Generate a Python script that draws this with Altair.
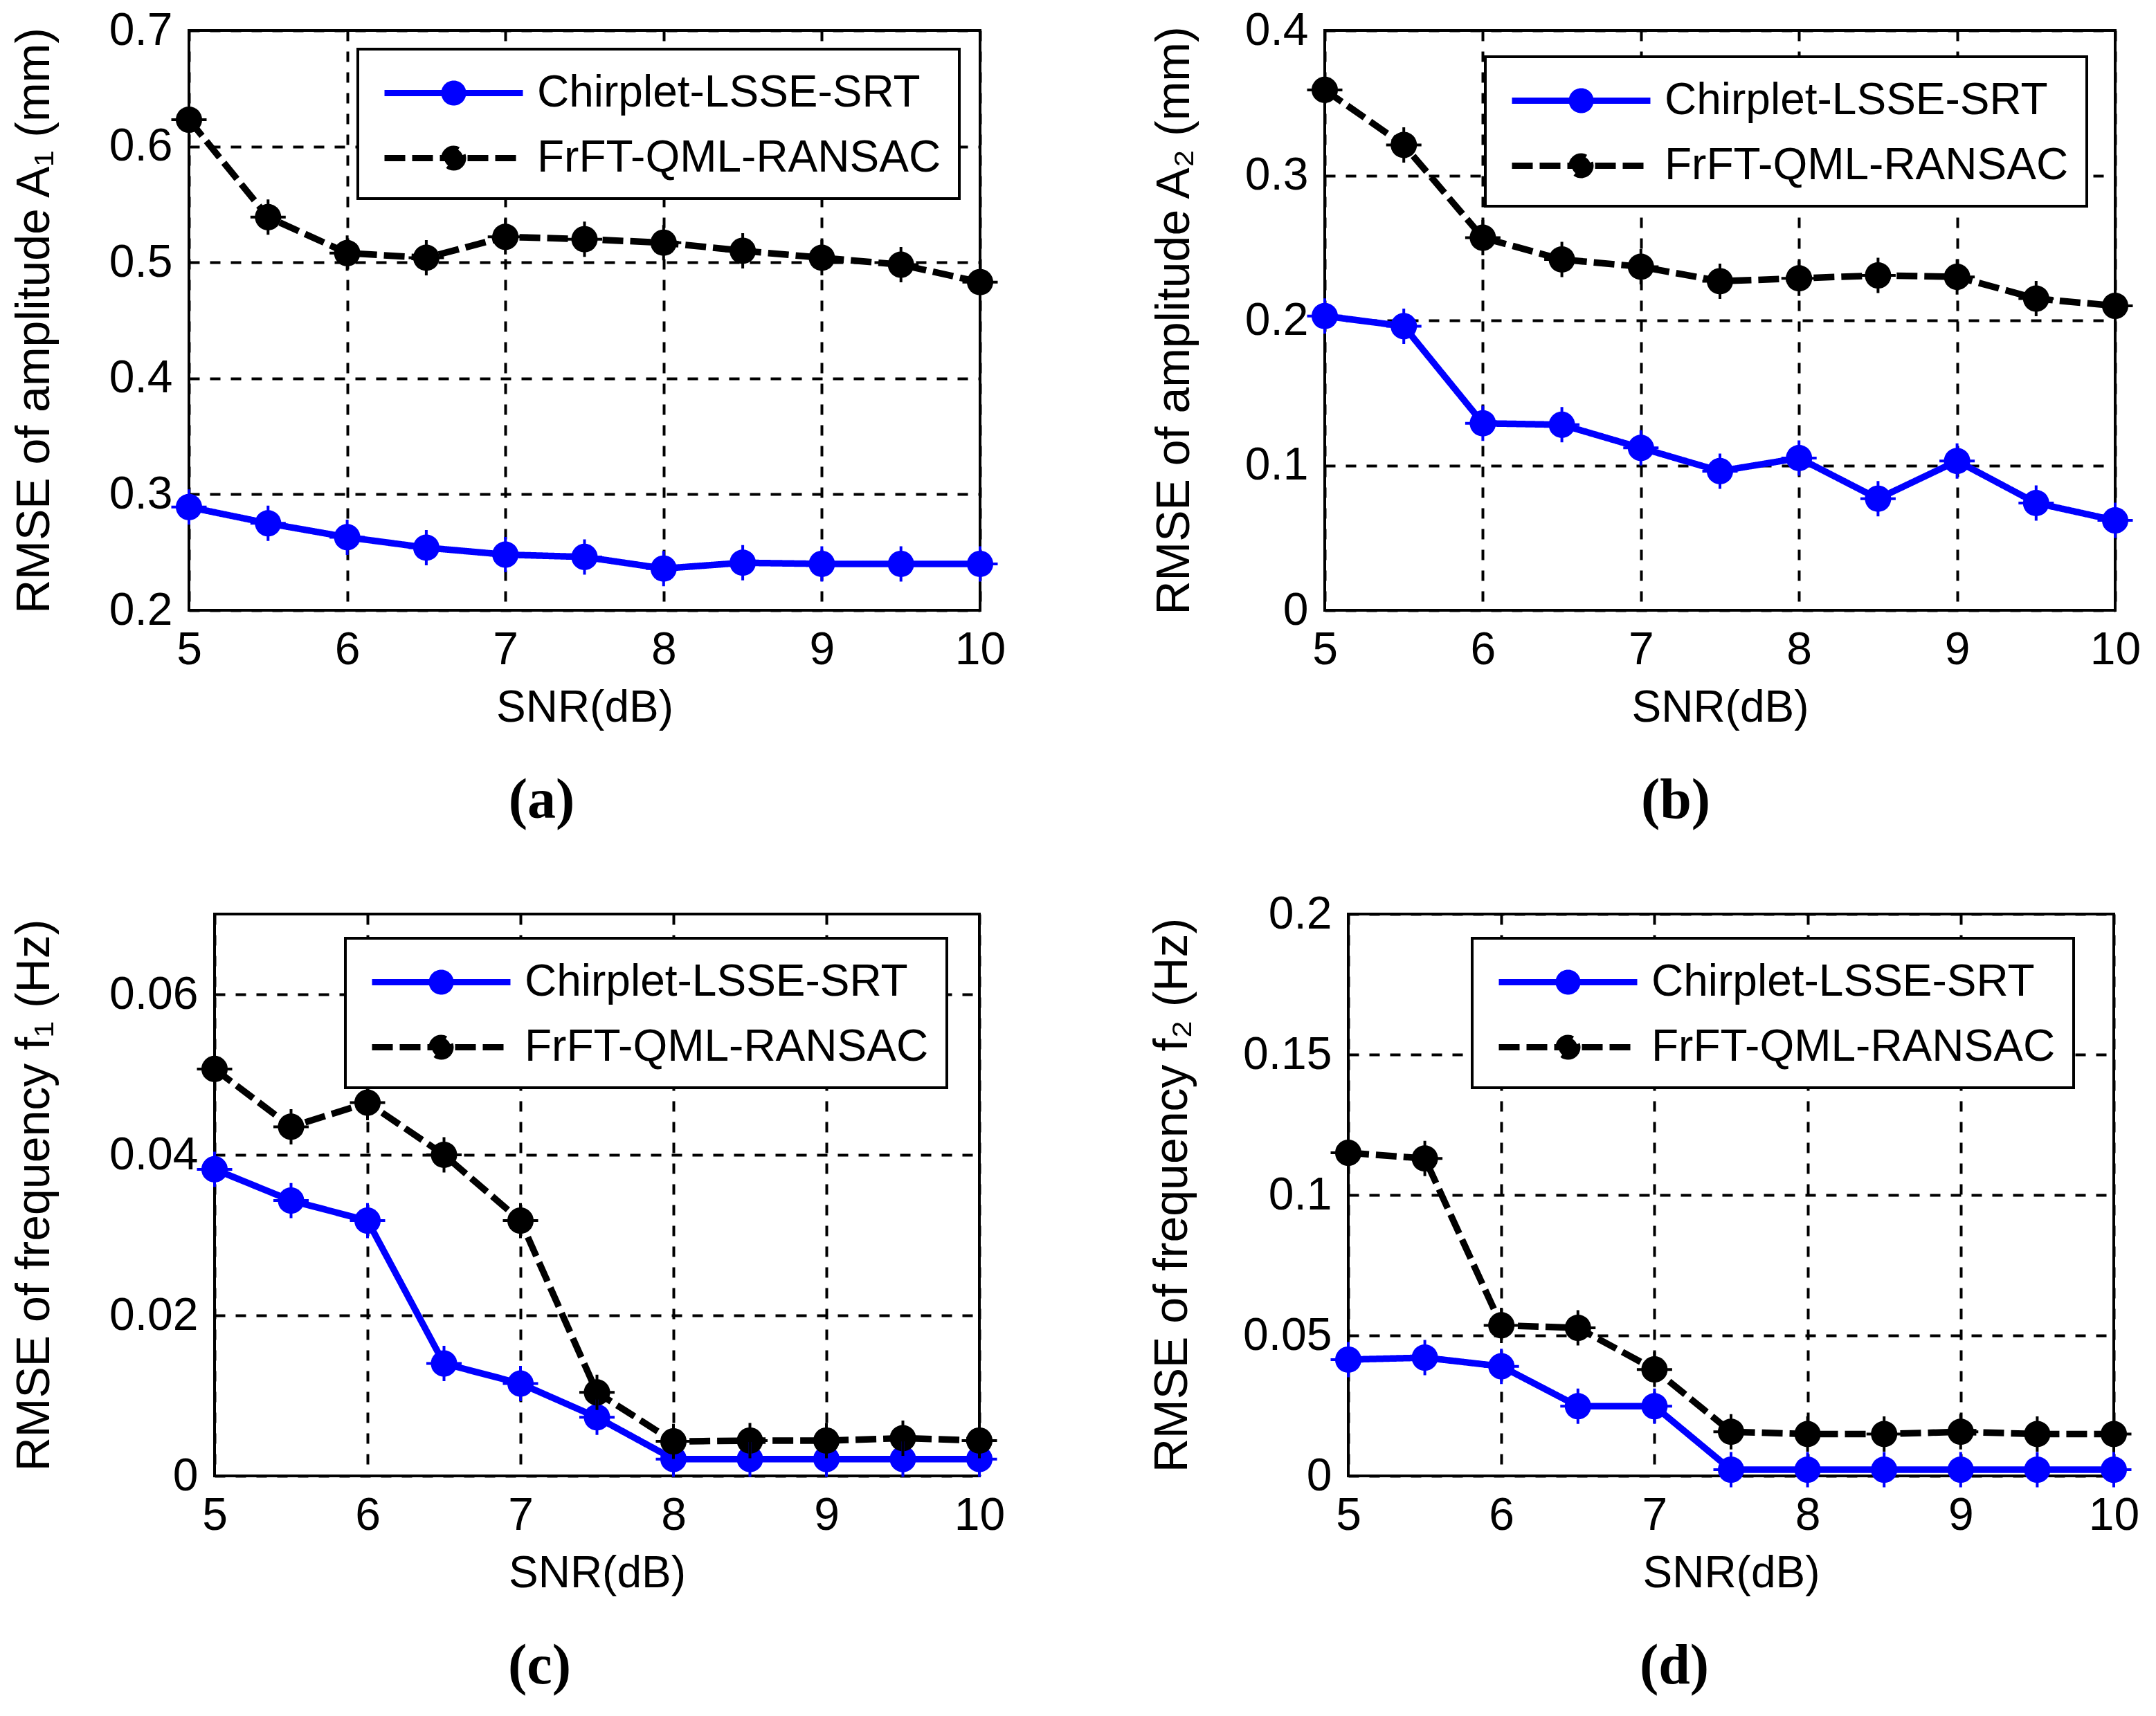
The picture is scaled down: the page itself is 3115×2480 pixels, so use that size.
import altair as alt
import pandas as pd

# ---------------- data ----------------
snr = [5, 5.5, 6, 6.5, 7, 7.5, 8, 8.5, 9, 9.5, 10]
series_names = ["Chirplet-LSSE-SRT", "FrFT-QML-RANSAC"]
series_colors = ["#0000ff", "#000000"]

a_chirp = [0.289, 0.275, 0.263, 0.254, 0.248, 0.246, 0.236, 0.241, 0.240, 0.240, 0.240]
a_frft = [0.623, 0.539, 0.508, 0.504, 0.522, 0.520, 0.517, 0.510, 0.504, 0.498, 0.483]

b_chirp = [0.203, 0.196, 0.129, 0.128, 0.112, 0.096, 0.105, 0.077, 0.103, 0.074, 0.062]
b_frft = [0.359, 0.321, 0.257, 0.242, 0.237, 0.227, 0.229, 0.231, 0.230, 0.215, 0.210]

c_chirp = [0.0382, 0.0343, 0.0318, 0.0140, 0.0115, 0.0073, 0.0021, 0.0021, 0.0021, 0.0021, 0.0021]
c_frft = [0.0507, 0.0435, 0.0465, 0.0400, 0.0318, 0.0104, 0.0043, 0.0044, 0.0044, 0.0047, 0.0044]

d_chirp = [0.0414, 0.0421, 0.0390, 0.0248, 0.0248, 0.0022, 0.0022, 0.0022, 0.0022, 0.0022, 0.0022]
d_frft = [0.115, 0.113, 0.0536, 0.0527, 0.0379, 0.0157, 0.0149, 0.0149, 0.0157, 0.0149, 0.0149]

x_ticks = [5, 6, 7, 8, 9, 10]

SANS = "Liberation Sans, Arial, sans-serif"
SERIF = "Liberation Serif, Times New Roman, serif"

LEGEND_SYMBOL = ("M-3.03,0L3.03,0"
                 "M0.41,0A0.41,0.41,0,1,1,-0.41,0A0.41,0.41,0,1,1,0.41,0Z")

INDEP_SCALES = dict(color="independent", fill="independent",
                    strokeDash="independent", stroke="independent")
INDEP_LEGENDS = dict(color="independent", fill="independent", strokeDash="independent")


def panel(chirp, frft, ydom, yticks, ytitle, title_x, leg_x, leg_y, w, h, caption, cap_dx):
    df = pd.DataFrame({
        "snr": snr + snr,
        "rmse": chirp + frft,
        "series": [series_names[0]] * len(snr) + [series_names[1]] * len(snr),
    })
    base = alt.Chart(df)
    x = alt.X("snr:Q",
              scale=alt.Scale(domain=[5, 10], nice=False, zero=False),
              axis=alt.Axis(values=x_ticks, title="SNR(dB)", labelFlush=False,
                            labelOverlap=False, labelPadding=25, titlePadding=19,
                            titleFontSize=64, titleFont=SANS))
    y = alt.Y("rmse:Q",
              scale=alt.Scale(domain=ydom, nice=False, zero=False),
              axis=alt.Axis(values=yticks, format="~g", title=ytitle, labelFlush=False,
                            labelOverlap=False, labelPadding=24, titleX=title_x,
                            titleBaseline="middle", titleFontSize=68, titleFont=SANS))
    legend = alt.Legend(
        title=None, orient="none", legendX=leg_x, legendY=leg_y,
        padding=26, rowPadding=24, symbolOffset=75, labelOffset=83,
        symbolType=LEGEND_SYMBOL, symbolSize=4356, symbolStrokeWidth=9,
        fillColor="white", strokeColor="black",
        labelFont=SANS, labelFontSize=64, labelColor="black", labelLimit=2000,
    )
    cscale = alt.Scale(domain=series_names, range=series_colors)
    line = base.mark_line(strokeWidth=9.5).encode(
        x=x, y=y,
        color=alt.Color("series:N", scale=cscale, legend=legend),
        strokeDash=alt.StrokeDash("series:N",
                                  scale=alt.Scale(domain=series_names, range=[[1, 0], [30, 10]]),
                                  legend=legend),
    )
    dots = base.mark_point(filled=True, shape="circle", size=1450, opacity=1, strokeWidth=0).encode(
        x=x, y=y,
        fill=alt.Fill("series:N", scale=cscale, legend=legend),
    )
    spikes = base.mark_point(shape="M0,-1L0,1M-1,0L1,0", filled=False, size=2600,
                             strokeWidth=4, opacity=1).encode(
        x=x, y=y,
        stroke=alt.Stroke("series:N", scale=cscale, legend=None),
    )
    return alt.layer(line, dots, spikes).properties(
        width=w, height=h,
        title=alt.TitleParams(text=caption, orient="bottom", anchor="middle", frame="group",
                              dx=cap_dx, offset=62, font=SERIF, fontSize=82,
                              fontWeight="bold", color="black"),
    )


def spacer():
    # tiny invisible cell that starts each row, so that both rows can begin
    # at their own horizontal offset (it sits outside the visible page)
    return alt.Chart(pd.DataFrame({"v": [0]})).mark_point(opacity=0, size=1).encode(
        x=alt.X("v:Q", axis=None), y=alt.Y("v:Q", axis=None)
    ).properties(width=1, height=1)


pa = panel(a_chirp, a_frft, [0.2, 0.7], [0.2, 0.3, 0.4, 0.5, 0.6, 0.7],
           "RMSE of amplitude A\u2081 (mm)", -223, 244, 27, 1143, 838, "(a)", -62)
pb = panel(b_chirp, b_frft, [0, 0.4], [0, 0.1, 0.2, 0.3, 0.4],
           "RMSE of amplitude A\u2082 (mm)", -217, 232, 38, 1142, 838, "(b)", -64)
pc = panel(c_chirp, c_frft, [0, 0.07], [0, 0.02, 0.04, 0.06],
           "RMSE of frequency f\u2081 (Hz)", -260, 189, 35, 1105, 812, "(c)", -83)
pd_ = panel(d_chirp, d_frft, [0, 0.2], [0, 0.05, 0.1, 0.15, 0.2],
            "RMSE of frequency f\u2082 (Hz)", -254, 179, 35, 1106, 812, "(d)", -82)

row1 = alt.hconcat(pa, pb, spacing=205).resolve_scale(**INDEP_SCALES).resolve_legend(**INDEP_LEGENDS)
row2 = alt.hconcat(pc, pd_, spacing=203).resolve_scale(**INDEP_SCALES).resolve_legend(**INDEP_LEGENDS)

COL_GAP = 207

chart = alt.concat(
    spacer(), row1, spacer(), row2, columns=2,
    spacing={"row": 86, "column": COL_GAP},
    align={"row": "each", "column": "none"},
).resolve_scale(**INDEP_SCALES).resolve_legend(**INDEP_LEGENDS).properties(
    padding={"left": 9 - (1 + COL_GAP), "top": 9, "right": 0, "bottom": 0},
    background="white",
).configure_view(
    stroke="black", strokeWidth=4
).configure_axis(
    grid=True, gridColor="black", gridDash=[15, 15], gridWidth=4, gridOpacity=1,
    domain=False, ticks=False,
    labelFont=SANS, labelFontSize=66, labelColor="black",
    titleColor="black", titleFontWeight="normal",
).configure_legend(
    strokeWidth=4
)

chart.save("out.html", embed_options={"renderer": "svg", "actions": False})
